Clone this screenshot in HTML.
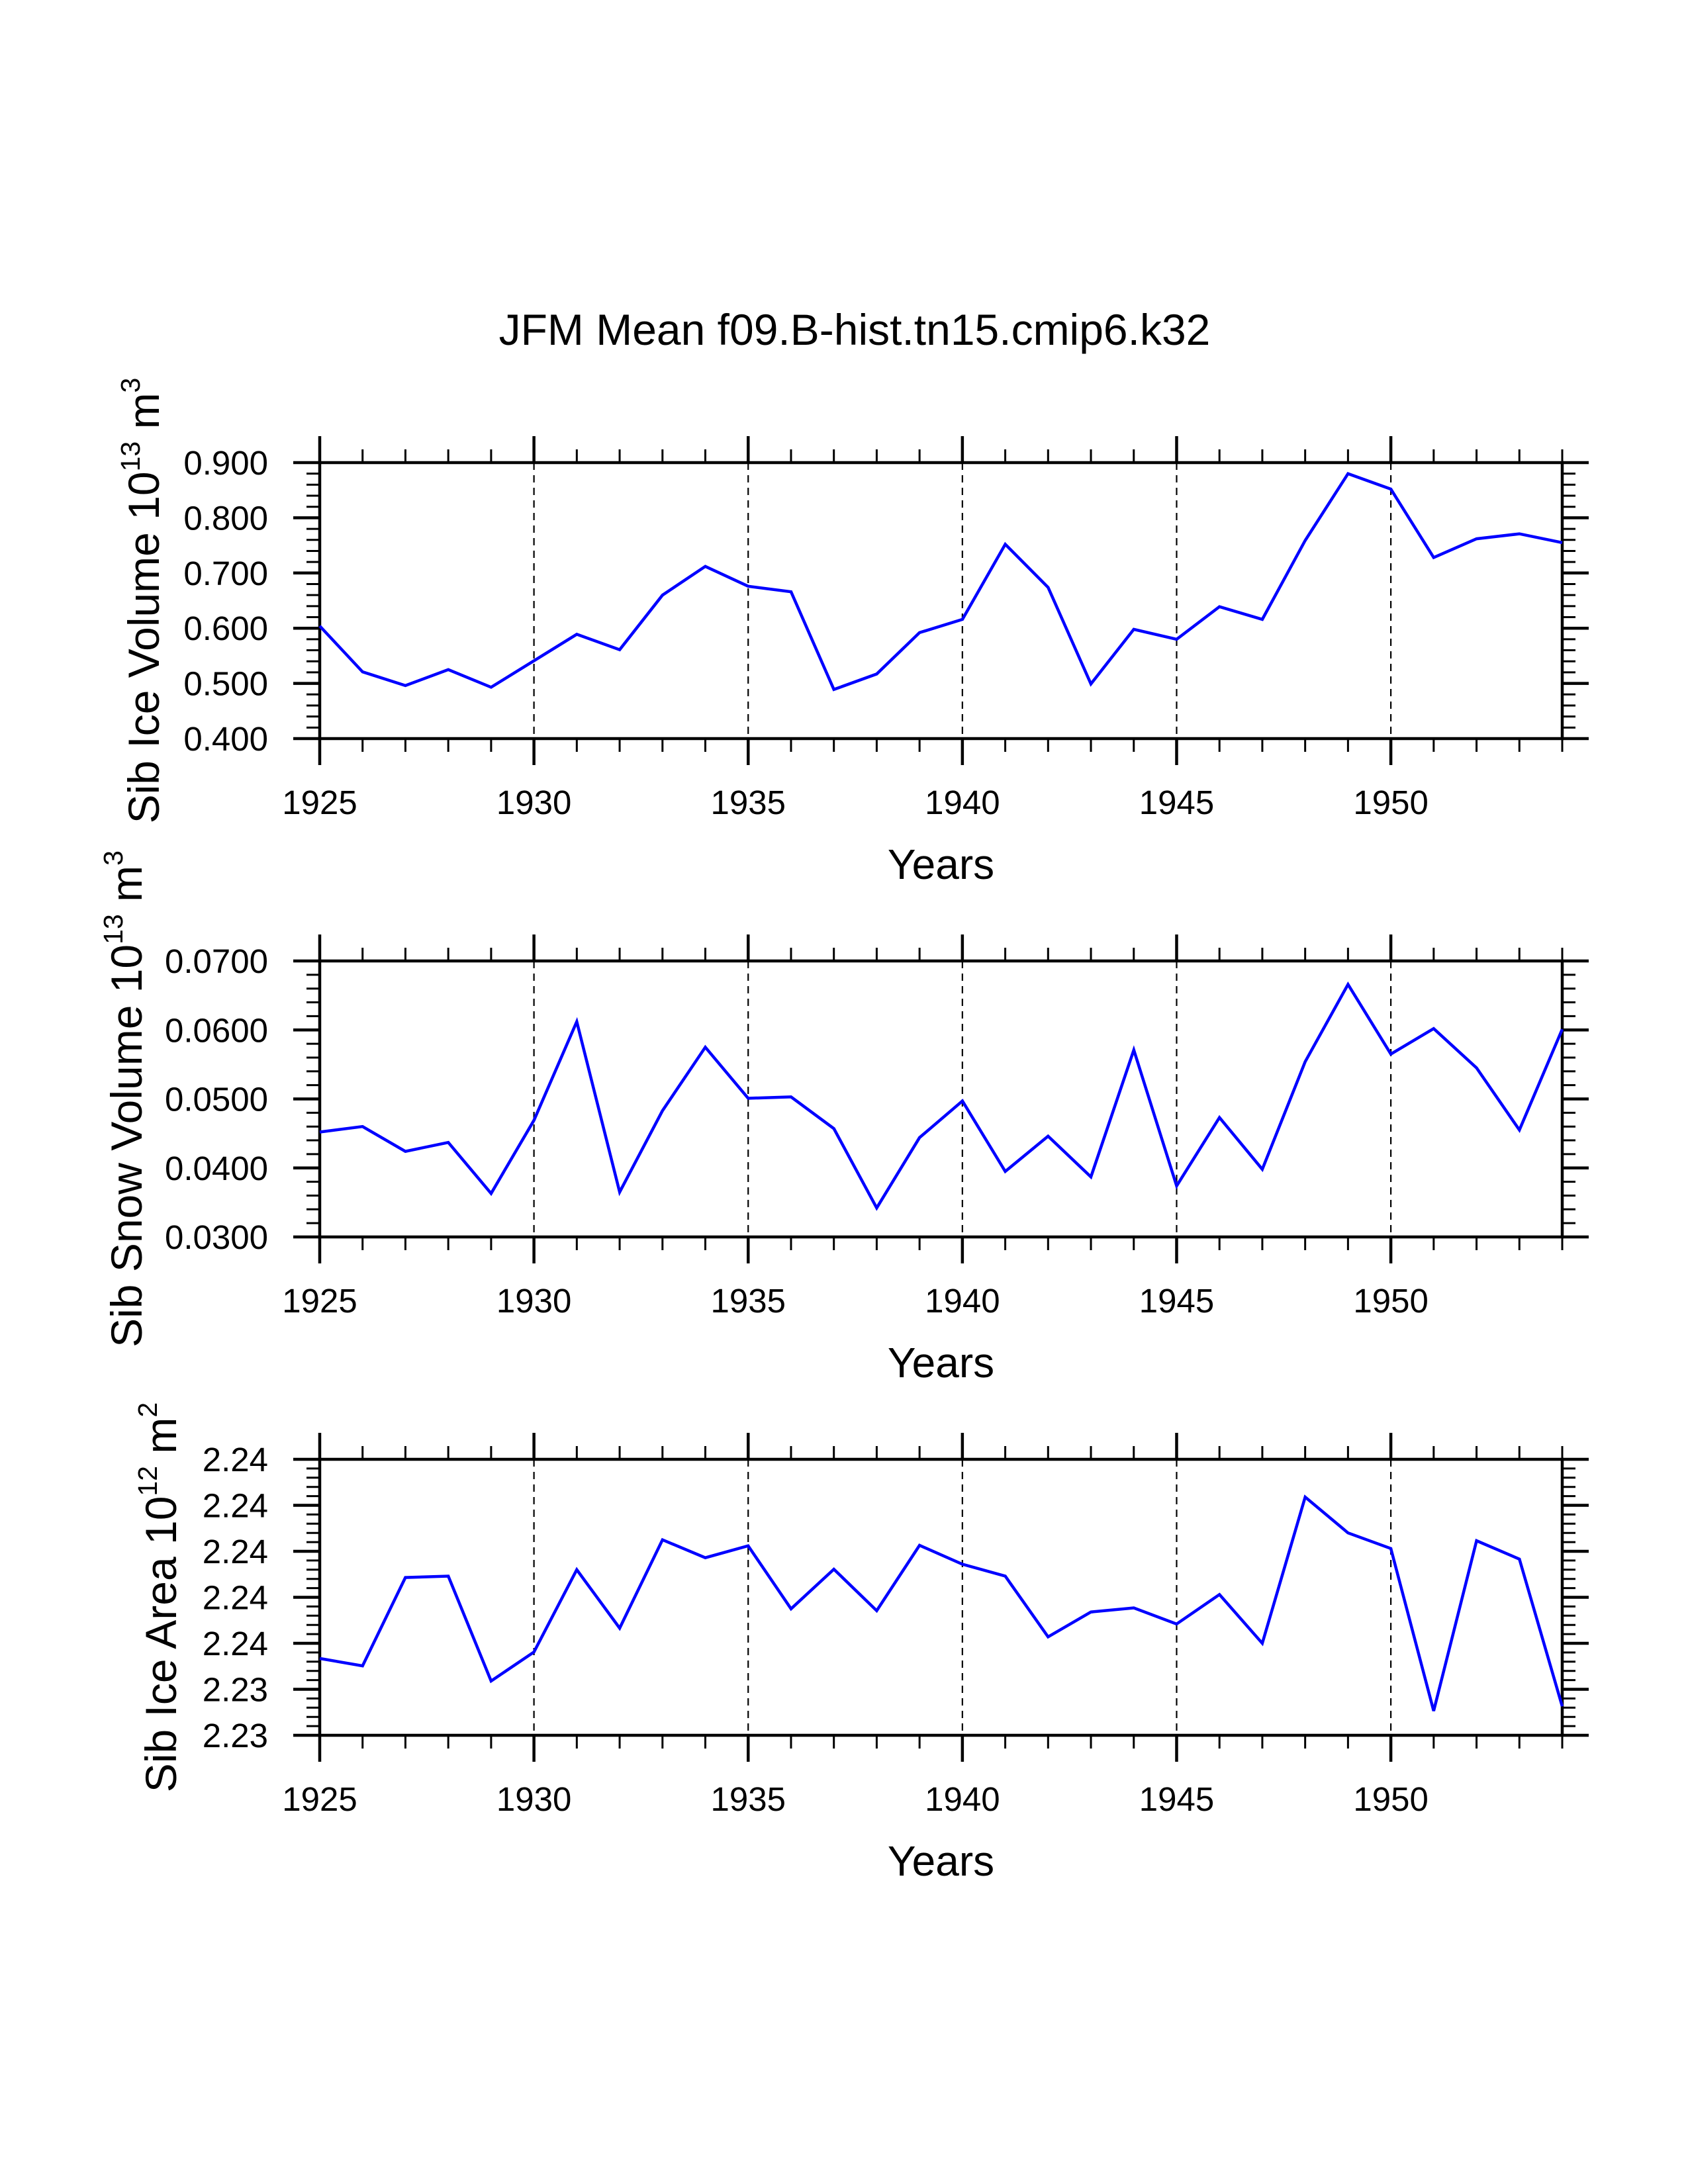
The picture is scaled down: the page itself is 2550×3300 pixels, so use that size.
<!DOCTYPE html>
<html><head><meta charset="utf-8"><style>html,body{margin:0;padding:0;background:#fff}svg{display:block}</style></head>
<body>
<svg id="chart" xmlns="http://www.w3.org/2000/svg" width="2550" height="3300" viewBox="0 0 2550 3300" font-family="Liberation Sans, Arial, sans-serif">
<rect width="2550" height="3300" fill="#fff"/>
<text x="1291" y="521" font-size="66" text-anchor="middle">JFM Mean f09.B-hist.tn15.cmip6.k32</text>
</svg>
<script>
const years = [1925,1926,1927,1928,1929,1930,1931,1932,1933,1934,1935,1936,1937,1938,1939,1940,1941,1942,1943,1944,1945,1946,1947,1948,1949,1950,1951,1952,1953,1954];
const iceVolume = [0.604,0.521,0.496,0.525,0.493,0.541,0.589,0.561,0.660,0.712,0.676,0.666,0.489,0.517,0.592,0.616,0.752,0.674,0.499,0.598,0.580,0.639,0.616,0.759,0.880,0.852,0.728,0.762,0.771,0.755];
const snowVolume = [0.0452,0.0460,0.0424,0.0437,0.0363,0.0469,0.0612,0.0365,0.0483,0.0575,0.0501,0.0503,0.0457,0.0342,0.0444,0.0497,0.0395,0.0446,0.0387,0.0571,0.0374,0.0473,0.0398,0.0554,0.0666,0.0565,0.0602,0.0545,0.0455,0.0601];
const iceArea = [2.23467,2.23451,2.23643,2.23646,2.23418,2.23481,2.23660,2.23533,2.23725,2.23686,2.23712,2.23575,2.23661,2.23571,2.23713,2.23672,2.23646,2.23514,2.23568,2.23577,2.23542,2.23606,2.23500,2.23818,2.23740,2.23706,2.23353,2.23723,2.23683,2.23363];
const xTickYears = [1925,1930,1935,1940,1945,1950];
const iceVolTicks = [0.4,0.5,0.6,0.7,0.8,0.9];
const iceVolTickLabels = ["0.400","0.500","0.600","0.700","0.800","0.900"];
const snowTicks = [0.03,0.04,0.05,0.06,0.07];
const snowTickLabels = ["0.0300","0.0400","0.0500","0.0600","0.0700"];
const areaTicks = [2.233,2.234,2.235,2.236,2.237,2.238,2.239];
const areaTickLabels = ["2.23","2.23","2.24","2.24","2.24","2.24","2.24"];

const NS = "http://www.w3.org/2000/svg";
const svg = document.getElementById('chart');
function mk(tag, attrs, parent){
  const e = document.createElementNS(NS, tag);
  for (const k in attrs) e.setAttribute(k, attrs[k]);
  (parent||svg).appendChild(e);
  return e;
}
const X0 = 483, X1 = 2360, H = 417;
const xMin = years[0], xMax = years[years.length-1];
function xScale(yr){ return X0 + (yr - xMin) / (xMax - xMin) * (X1 - X0); }

function panel(cfg){
  const top = cfg.top, bot = top + H;
  const g = mk('g', {});
  
  
  const yMin = cfg.ticks[0], yMax = cfg.ticks[cfg.ticks.length-1];
  const yScale = v => bot - (v - yMin) / (yMax - yMin) * H;
  xTickYears.slice(1).forEach(yr => {
    const l = mk('line', {x1:xScale(yr), x2:xScale(yr), y1:top, y2:bot, stroke:'#000', 'stroke-width':2.2, 'stroke-dasharray':'11,8'}, g);
    
    
  });
  years.forEach(yr => {
    const major = xTickYears.includes(yr);
    const len = major ? 40 : 20, w = major ? 4.5 : 3, x = xScale(yr);
    const t1 = mk('line', {x1:x, x2:x, y1:bot, y2:bot+len, stroke:'#000', 'stroke-width':w}, g);
    
    
    const t2 = mk('line', {x1:x, x2:x, y1:top, y2:top-len, stroke:'#000', 'stroke-width':w}, g);
    
    
  });
  xTickYears.forEach(yr => {
    const t = mk('text', {x:xScale(yr), y:bot+114, 'font-size':51, 'text-anchor':'middle'}, g);
    t.textContent = yr;
    
    
  });
  const step = cfg.ticks[1] - cfg.ticks[0];
  for (let i = 0; i < cfg.ticks.length; i++){
    const v = cfg.ticks[i], y = yScale(v);
    const a = mk('line', {x1:X0-40, x2:X0, y1:y, y2:y, stroke:'#000', 'stroke-width':4.5}, g);
    
    
    const b = mk('line', {x1:X1, x2:X1+40, y1:y, y2:y, stroke:'#000', 'stroke-width':4.5}, g);
    
    
    const lab = mk('text', {x:405, y:y+18, 'font-size':51, 'text-anchor':'end'}, g);
    lab.textContent = cfg.labels[i];
    
    
    if (i < cfg.ticks.length - 1){
      for (let k = 1; k < 5; k++){
        const ym = yScale(v + step * k / 5);
        const c = mk('line', {x1:X0-20, x2:X0, y1:ym, y2:ym, stroke:'#000', 'stroke-width':3}, g);
        
        
        const d = mk('line', {x1:X1, x2:X1+20, y1:ym, y2:ym, stroke:'#000', 'stroke-width':3}, g);
        
        
      }
    }
  }
  const fr = mk('rect', {x:X0, y:top, width:X1-X0, height:H, fill:'none', stroke:'#000', 'stroke-width':4.5}, g);
  
  
  const pts = cfg.values.map((v,i) => xScale(years[i]).toFixed(1) + ',' + yScale(v).toFixed(1)).join(' ');
  const pl = mk('polyline', {points:pts, fill:'none', stroke:'#0000ff', 'stroke-width':4.5, 'stroke-linejoin':'miter'}, g);
  
  
  const xt = mk('text', {x:(X0+X1)/2, y:bot+212, 'font-size':64, 'text-anchor':'middle'}, g);
  xt.textContent = 'Years';
  
  
  const cy = top + H/2;
  const yt = mk('text', {x:0, y:0, 'font-size':66, 'text-anchor':'middle', transform:'translate(' + cfg.titleX + ',' + cy + ') rotate(-90)'}, g);
  
  
  const s1 = mk('tspan', {}, yt); s1.textContent = cfg.titleMain + ' 10';
  const s2 = mk('tspan', {'font-size':41, dy:-29}, yt); s2.textContent = cfg.exp;
  const s3 = mk('tspan', {dy:29}, yt); s3.textContent = ' m';
  const s4 = mk('tspan', {'font-size':41, dy:-29}, yt); s4.textContent = cfg.unitExp;
}

panel({name:'ice-volume-panel', seriesName:'ice-volume-line', top:699, ticks:iceVolTicks, labels:iceVolTickLabels, values:iceVolume, titleX:240, titleMain:'Sib Ice Volume', exp:'13', unitExp:'3'});
panel({name:'snow-volume-panel', seriesName:'snow-volume-line', top:1452, ticks:snowTicks, labels:snowTickLabels, values:snowVolume, titleX:214, titleMain:'Sib Snow Volume', exp:'13', unitExp:'3'});
panel({name:'ice-area-panel', seriesName:'ice-area-line', top:2205, ticks:areaTicks, labels:areaTickLabels, values:iceArea, titleX:266, titleMain:'Sib Ice Area', exp:'12', unitExp:'2'});
</script>
</body></html>
